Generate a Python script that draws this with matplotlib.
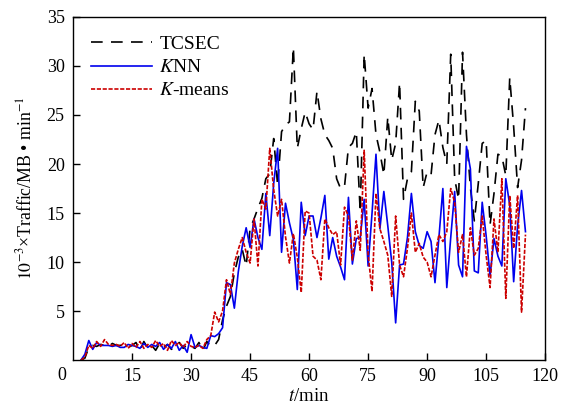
import numpy as np
import matplotlib
matplotlib.use("Agg")
import matplotlib.pyplot as plt

plt.rcParams['font.family'] = ['Liberation Serif', 'DejaVu Serif']
plt.rcParams['mathtext.fontset'] = 'stix'

t = np.arange(2, 116)

tcsec = [0, 0.2, 1.3, 1.5, 1.4, 1.6, 1.5, 1.4, 1.7, 1.5, 1.5, 1.6, 1.3, 1.5, 1.8, 1.0, 1.9, 1.2, 1.5, 1.0,
         1.7, 1.3, 1.6, 1.1, 1.5, 1.8, 1.2, 1.6, 1.4, 1.2, 1.8, 1.0, 1.9, 1.4, 1.5, 2.1, 4.1, 5.5, 6.5, 8.9,
         10.5, 11.3, 9.6, 13.4, 14.4, 15.5, 16.5, 18.5, 19.0, 22.6, 17.8, 23.3, 24.0, 24.3, 31.9, 21.6, 23.6, 25.3, 24.1, 23.5,
         27.4, 24.6, 23.0, 22.4, 21.6, 18.5, 17.5, 17.7, 21.7, 22.1, 23.3, 15.1, 31.2, 25.7, 27.7, 23.0, 21.2, 18.9, 24.8, 20.4,
         22.1, 28.3, 16.4, 18.5, 19.2, 26.4, 25.4, 17.6, 19.2, 18.9, 23.0, 24.5, 21.7, 20.0, 31.2, 18.5, 16.4, 31.4, 23.0, 17.6,
         14.2, 18.0, 22.1, 22.4, 13.8, 17.0, 21.0, 20.8, 18.8, 28.8, 23.8, 17.6, 20.4, 25.7]

knn = [0, 0.6, 2.0, 1.1, 1.8, 1.5, 1.5, 1.5, 1.4, 1.5, 1.3, 1.3, 1.6, 1.5, 1.4, 1.2, 1.7, 1.3, 1.6, 1.4,
       1.8, 1.1, 1.6, 1.2, 1.9, 1.0, 1.5, 0.8, 2.6, 1.3, 1.5, 1.3, 1.2, 2.5, 2.4, 2.7, 3.3, 7.9, 7.7, 5.3,
       9.0, 11.6, 13.5, 11.5, 14.4, 12.5, 11.3, 17.0, 12.7, 18.0, 21.6, 11.0, 16.0, 14.0, 12.3, 7.2, 16.1, 12.7, 14.7, 14.7,
       12.5, 14.5, 16.8, 10.3, 12.5, 10.6, 9.5, 8.2, 16.6, 9.8, 12.4, 12.5, 16.4, 9.6, 15.0, 21.0, 13.4, 17.2, 13.7, 10.0,
       3.8, 9.7, 9.8, 12.5, 17.0, 13.1, 11.7, 11.4, 13.1, 12.1, 7.9, 12.5, 17.5, 7.4, 12.5, 17.2, 9.7, 8.5, 21.8, 19.5,
       9.1, 8.9, 16.1, 12.7, 8.6, 12.4, 10.6, 9.6, 18.5, 15.8, 8.0, 13.7, 17.3, 13.1]

kmeans = [0, 0.3, 1.5, 1.2, 1.9, 1.4, 2.1, 1.6, 1.5, 1.6, 1.4, 1.8, 1.2, 1.7, 1.3, 1.9, 1.2, 1.6, 1.3, 2.0,
          1.4, 1.7, 1.0, 2.0, 1.5, 1.8, 1.3, 1.9, 1.4, 1.3, 1.5, 1.2, 2.1, 2.5, 4.9, 3.9, 5.0, 8.2, 6.7, 9.9,
          11.3, 12.5, 11.0, 9.9, 14.4, 9.6, 16.4, 15.4, 21.6, 17.4, 14.7, 16.4, 12.6, 9.9, 12.9, 10.5, 6.9, 15.2, 15.0, 10.6,
          10.2, 8.2, 14.4, 13.5, 12.8, 13.1, 9.7, 15.6, 14.7, 10.2, 14.2, 11.2, 21.4, 10.8, 7.0, 17.0, 13.4, 12.1, 10.7, 6.5,
          14.7, 9.7, 8.5, 11.4, 15.0, 11.0, 11.9, 10.5, 10.0, 8.5, 10.7, 12.8, 12.1, 13.1, 17.5, 16.1, 11.0, 12.8, 8.5, 13.5,
          10.7, 11.4, 14.7, 10.7, 7.4, 14.4, 11.0, 18.5, 6.3, 16.8, 11.4, 16.8, 4.9, 12.8]

labels = ['TCSEC', '$K$NN', '$K$-means']
xticks = [15, 30, 45, 60, 75, 90, 105, 120]
yticks = [5, 10, 15, 20, 25, 30, 35]

fig = plt.figure(figsize=(5.62, 4.13), dpi=100)
ax = fig.add_axes([0.130, 0.128, 0.840, 0.831])

ax.plot(t, tcsec, color='black', lw=1.2, dashes=(7, 5), label=labels[0])
ax.plot(t, knn, color='#0000ee', lw=1.2, label=labels[1])
ax.plot(t, kmeans, color='#cc0000', lw=1.2, dashes=(2.5, 1), label=labels[2])

ax.set_xlim(0, 120)
ax.set_ylim(0, 35)
ax.set_xticks(xticks)
ax.set_yticks(yticks)
ax.tick_params(direction='in', length=5, width=1, labelsize=13, top=False, right=False, pad=6)
ax.annotate('0', xy=(0, 0), xycoords='data', xytext=(-11, -15), textcoords='offset pixels',
            ha='center', va='center', fontsize=13)
for s in ax.spines.values():
    s.set_linewidth(1.0)

ax.set_xlabel('$t$/min', fontsize=13.5, labelpad=2)
ax.set_ylabel('$10^{-3}$×Traffic/MB • min$^{-1}$', fontsize=12.8, labelpad=8)

leg = ax.legend(loc='upper left', bbox_to_anchor=(0.01, 0.985), frameon=False, fontsize=14,
                handlelength=3.1, handletextpad=0.4, labelspacing=0.28, borderaxespad=0.3)

fig.savefig('out.png', dpi=100)
